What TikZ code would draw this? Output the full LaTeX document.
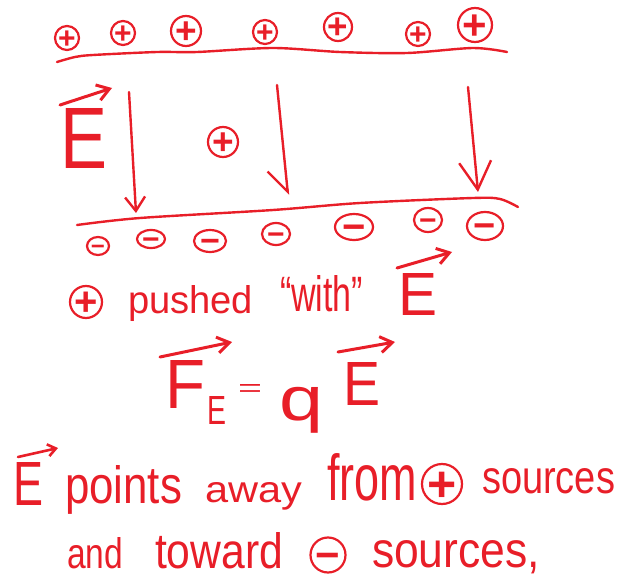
\documentclass[tikz,border=0pt]{standalone}
\usepackage{fontspec}
\setmainfont{Liberation Sans}
\usetikzlibrary{arrows.meta,shapes.geometric}
\definecolor{ink}{RGB}{232,30,40}
\newcommand\hw[3]{\resizebox{#1pt}{#2pt}{#3}}
\newcommand\ctr[1]{\raisebox{-0.34em}[0pt][0pt]{#1}}
\begin{document}
\begin{tikzpicture}[x=1pt,y=-1pt,line cap=round,line join=round,
  word/.style={anchor=base west,inner sep=0pt,outer sep=0pt,text=ink},
  pc/.style 2 args={draw=ink,circle,line width=2.2pt,inner sep=0pt,minimum size=#1,text=ink,
     font=\fontsize{#2}{#2}\selectfont\bfseries},
  mc/.style n args={3}{draw=ink,ellipse,line width=2.2pt,inner sep=0pt,minimum width=#1,minimum height=#2,text=ink,
     font=\fontsize{#3}{#3}\selectfont\bfseries},
  ink line/.style={draw=ink,line width=2.4pt},
  vec/.style={ink line,line width=3pt,-{Straight Barb[length=12pt,width=16pt]}}]
\useasboundingbox (0,0) rectangle (619,578);
% top positive charges
\node[pc={24pt}{30}] (p1) at (67,38) {\ctr{+}};
\node[pc={24pt}{30}] (p2) at (123,33) {\ctr{+}};
\node[pc={30pt}{37}] (p3) at (186,31) {\ctr{+}};
\node[pc={24pt}{30}] (p4) at (265,32) {\ctr{+}};
\node[pc={28pt}{35}] (p5) at (338,27) {\ctr{+}};
\node[pc={24pt}{30}] (p6) at (418,34) {\ctr{+}};
\node[pc={34pt}{42}] (p7) at (475,25) {\ctr{+}};
% plates
\draw[ink line] plot[smooth] coordinates {(57,62) (75,57) (93,55) (157,52) (197,52) (273,48) (340,52) (407,53) (473,48) (507,52)};
\draw[ink line] plot[smooth] coordinates {(77,225) (140,218) (273,210) (360,203) (473,198) (500,199) (518,207)};
% negative charges
\node[mc={22pt}{18pt}{24}] (m1) at (98,246) {\ctr{−}};
\node[mc={28pt}{18pt}{30}] (m2) at (151,239) {\ctr{−}};
\node[mc={32pt}{22pt}{34}] (m3) at (210,241) {\ctr{−}};
\node[mc={28pt}{22pt}{30}] (m4) at (276,234) {\ctr{−}};
\node[mc={38pt}{26pt}{40}] (m5) at (354,227) {\ctr{−}};
\node[mc={28pt}{24pt}{30}] (m6) at (428,220) {\ctr{−}};
\node[mc={36pt}{28pt}{38}] (m7) at (485,226) {\ctr{−}};
% field label
\node[word] (Eleft) at (60,168) {\hw{47}{60}{E}};
\draw[vec] (60,105) -- (112,88);
% field arrows
\coordinate (a1s) at (129,92); \coordinate (a1e) at (136,213);
\coordinate (a2s) at (277,85); \coordinate (a2e) at (288,195);
\coordinate (a3s) at (468,87); \coordinate (a3e) at (478,192);
\draw[ink line,-{Straight Barb[length=14pt,width=20pt]}] (a1s) -- (a1e);
\draw[ink line,-{Straight Barb[right,length=22pt,width=36pt]}] (a2s) -- (a2e);
\draw[ink line,-{Straight Barb[length=28pt,width=32pt]}] (a3s) -- (a3e);
% test charge
\node[pc={30pt}{37}] (tc) at (223,142) {\ctr{+}};
% line 1
\node[pc={32pt}{40}] (lp) at (86,302) {\ctr{+}};
\node[word] (pushed) at (128,313) {\hw{125}{28}{pushed}};
\node[word] (with) at (280,311) {\hw{83}{36}{“with”}};
\node[word] (E1) at (398,315) {\hw{39}{42}{E}};
\draw[vec] (397,268) -- (452,252);
% formula
\node[word] (F) at (165,408) {\hw{40}{48}{F}};
\node[word] (Fs) at (207,424) {\hw{19}{28}{E}};
\node[anchor=center,inner sep=0pt,text=ink] (eq) at (250,390) {\hw{24}{12}{=}};
\node[anchor=center,inner sep=0pt,text=ink] (q) at (302,410) {\resizebox*{44pt}{46pt}{q}};
\node[word] (E2) at (343,405) {\hw{37}{43}{E}};
\draw[vec] (160,357) -- (232,342);
\draw[vec] (338,352) -- (395,342);
% bottom text
\node[word] (E3) at (13,505) {\hw{30}{43}{E}};
\draw[vec,line width=2.6pt,-{Straight Barb[length=8pt,width=12pt]}] (18,457) -- (58,448);
\node[word] (points) at (65,503) {\hw{117}{38}{points}};
\node[word] (away) at (205,502) {\hw{97}{20}{away}};
\node[word] (from) at (327,500) {\hw{90}{47}{from}};
\node[pc={40pt}{50}] (bp) at (442,484) {\ctr{+}};
\node[word] (src1) at (482,493) {\hw{133}{25}{sources}};
\node[word] (and) at (67,568) {\hw{56}{31}{and}};
\node[word] (toward) at (155,568) {\hw{128}{36}{toward}};
\node[pc={35pt}{42}] (bm) at (328,555) {\ctr{−}};
\node[word] (src2) at (372,567) {\hw{168}{27}{sources,}};
\end{tikzpicture}
\end{document}
